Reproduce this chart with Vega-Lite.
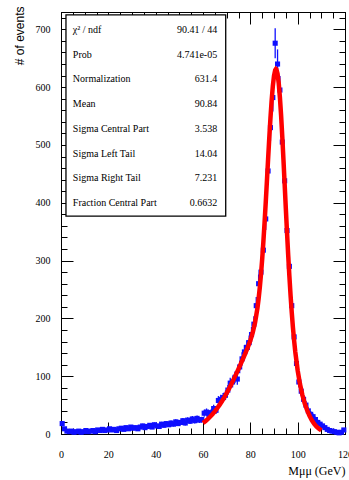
{
  "$schema": "https://vega.github.io/schema/vega-lite/v6.json",
  "width": 284,
  "height": 422,
  "autosize": "none",
  "padding": {"left": 61, "top": 12, "right": 4, "bottom": 46},
  "background": "white",
  "config": {
    "view": {"stroke": null},
    "axis": {"grid": false, "labelFont": "Liberation Serif", "labelFontSize": 10, "labelColor": "#000", "domainColor": "#000", "tickColor": "#000", "domainWidth": 1, "tickWidth": 1, "titleColor": "#000", "labelFlush": false}
  },
  "datasets": {
    "pts": [
      {"x":0.5,"v":18,"e":4.2},{"x":1.5,"v":9,"e":3},{"x":2.5,"v":5,"e":2.2},{"x":3.5,"v":4,"e":2},{"x":4.5,"v":5,"e":2.2},
      {"x":5.5,"v":3,"e":1.7},{"x":6.5,"v":4,"e":2},{"x":7.5,"v":5,"e":2.2},{"x":8.5,"v":3,"e":1.7},{"x":9.5,"v":4,"e":2},
      {"x":10.5,"v":6,"e":2.4},{"x":11.5,"v":4,"e":2},{"x":12.5,"v":5,"e":2.2},{"x":13.5,"v":6,"e":2.4},{"x":14.5,"v":4,"e":2},
      {"x":15.5,"v":7,"e":2.6},{"x":16.5,"v":6,"e":2.4},{"x":17.5,"v":8,"e":2.8},{"x":18.5,"v":6,"e":2.4},{"x":19.5,"v":7,"e":2.6},
      {"x":20.5,"v":9,"e":3},{"x":21.5,"v":7,"e":2.6},{"x":22.5,"v":8,"e":2.8},{"x":23.5,"v":6,"e":2.4},{"x":24.5,"v":9,"e":3},
      {"x":25.5,"v":10,"e":3.2},{"x":26.5,"v":8,"e":2.8},{"x":27.5,"v":11,"e":3.3},{"x":28.5,"v":9,"e":3},{"x":29.5,"v":12,"e":3.5},
      {"x":30.5,"v":10,"e":3.2},{"x":31.5,"v":11,"e":3.3},{"x":32.5,"v":9,"e":3},{"x":33.5,"v":12,"e":3.5},{"x":34.5,"v":14,"e":3.7},
      {"x":35.5,"v":11,"e":3.3},{"x":36.5,"v":13,"e":3.6},{"x":37.5,"v":15,"e":3.9},{"x":38.5,"v":12,"e":3.5},{"x":39.5,"v":16,"e":4},
      {"x":40.5,"v":14,"e":3.7},{"x":41.5,"v":13,"e":3.6},{"x":42.5,"v":17,"e":4.1},{"x":43.5,"v":15,"e":3.9},{"x":44.5,"v":18,"e":4.2},
      {"x":45.5,"v":16,"e":4},{"x":46.5,"v":19,"e":4.4},{"x":47.5,"v":17,"e":4.1},{"x":48.5,"v":21,"e":4.6},{"x":49.5,"v":18,"e":4.2},
      {"x":50.5,"v":20,"e":4.5},{"x":51.5,"v":23,"e":4.8},{"x":52.5,"v":19,"e":4.4},{"x":53.5,"v":24,"e":4.9},{"x":54.5,"v":22,"e":4.7},
      {"x":55.5,"v":26,"e":5.1},{"x":56.5,"v":23,"e":4.8},{"x":57.5,"v":27,"e":5.2},{"x":58.5,"v":24,"e":4.9},{"x":59.5,"v":25,"e":5},
      {"x":60.5,"v":36,"e":6},{"x":61.5,"v":38,"e":6.2},{"x":62.5,"v":33,"e":5.7},{"x":63.5,"v":37,"e":6.1},{"x":64.5,"v":44,"e":6.6},
      {"x":65.5,"v":41,"e":6.4},{"x":66.5,"v":58,"e":7.6},{"x":67.5,"v":60,"e":7.7},{"x":68.5,"v":63,"e":7.9},{"x":69.5,"v":67,"e":8.2},
      {"x":70.5,"v":76,"e":8.7},{"x":71.5,"v":88,"e":9.4},{"x":72.5,"v":90,"e":9.5},{"x":73.5,"v":98,"e":9.9},{"x":74.5,"v":95,"e":9.7},
      {"x":75.5,"v":116,"e":10.8},{"x":76.5,"v":130,"e":11.4},{"x":77.5,"v":142,"e":11.9},{"x":78.5,"v":150,"e":12.2},{"x":79.5,"v":158,"e":12.6},
      {"x":80.5,"v":172,"e":13.1},{"x":81.5,"v":190,"e":13.8},{"x":82.5,"v":222,"e":14.9},{"x":83.5,"v":260,"e":16.1},{"x":84.5,"v":280,"e":16.7},
      {"x":85.5,"v":318,"e":17.8},{"x":86.5,"v":372,"e":19.3},{"x":87.5,"v":455,"e":21.3},{"x":88.5,"v":530,"e":23},{"x":89.5,"v":582,"e":24.1},
      {"x":90.5,"v":676,"e":26},{"x":91.5,"v":640,"e":25.3},{"x":92.5,"v":595,"e":24.4},{"x":93.5,"v":505,"e":22.5},{"x":94.5,"v":438,"e":20.9},
      {"x":95.5,"v":352,"e":18.8},{"x":96.5,"v":290,"e":17},{"x":97.5,"v":222,"e":14.9},{"x":98.5,"v":168,"e":13},{"x":99.5,"v":122,"e":11},
      {"x":100.5,"v":90,"e":9.5},{"x":101.5,"v":74,"e":8.6},{"x":102.5,"v":60,"e":7.7},{"x":103.5,"v":50,"e":7.1},{"x":104.5,"v":40,"e":6.3},
      {"x":105.5,"v":34,"e":5.8},{"x":106.5,"v":30,"e":5.5},{"x":107.5,"v":25,"e":5},{"x":108.5,"v":20,"e":4.5},{"x":109.5,"v":17,"e":4.1},
      {"x":110.5,"v":14,"e":3.7},{"x":111.5,"v":11,"e":3.3},{"x":112.5,"v":8,"e":2.8},{"x":113.5,"v":6,"e":2.4},{"x":114.5,"v":5,"e":2.2},
      {"x":115.5,"v":4,"e":2},{"x":116.5,"v":3,"e":1.7},{"x":117.5,"v":2,"e":1.4},{"x":118.5,"v":3,"e":1.7},{"x":119.5,"v":7,"e":2.6}
    ],
    "fit": [
      {"x":60,"f":19.1},{"x":61,"f":22.2},{"x":62,"f":25.8},{"x":63,"f":29.8},{"x":64,"f":34.2},{"x":65,"f":39.1},
      {"x":66,"f":44.5},{"x":67,"f":50.3},{"x":68,"f":56.6},{"x":69,"f":63.4},{"x":70,"f":70.7},{"x":71,"f":78.4},
      {"x":72,"f":86.4},{"x":73,"f":94.9},{"x":74,"f":103.6},{"x":75,"f":112.5},{"x":76,"f":121.7},{"x":77,"f":131.0},
      {"x":78,"f":140.6},{"x":79,"f":150.5},{"x":80,"f":161.7},{"x":81,"f":175.1},{"x":82,"f":192.9},{"x":83,"f":217.8},
      {"x":83.5,"f":234.2},{"x":84,"f":253.5},{"x":84.5,"f":276.1},{"x":85,"f":302.2},{"x":85.5,"f":331.8},{"x":86,"f":364.7},
      {"x":86.5,"f":400.0},{"x":87,"f":437.2},{"x":87.5,"f":474.9},{"x":88,"f":511.7},{"x":88.5,"f":546.2},{"x":89,"f":576.6},
      {"x":89.5,"f":601.5},{"x":90,"f":619.4},{"x":90.5,"f":629.4},{"x":90.84,"f":631.4},{"x":91,"f":630.9},{"x":91.5,"f":623.3},
      {"x":92,"f":606.8},{"x":92.5,"f":582.2},{"x":93,"f":551.0},{"x":93.5,"f":514.4},{"x":94,"f":474.3},{"x":94.5,"f":432.3},
      {"x":95,"f":390.0},{"x":95.5,"f":348.7},{"x":96,"f":309.4},{"x":96.5,"f":273.0},{"x":97,"f":239.9},{"x":97.5,"f":210.3},
      {"x":98,"f":184.2},{"x":98.5,"f":161.5},{"x":99,"f":141.8},{"x":100,"f":110.0},{"x":101,"f":86.0},{"x":102,"f":67.5},
      {"x":103,"f":52.8},{"x":104,"f":41.0},{"x":105,"f":31.4},{"x":106,"f":23.6},{"x":107,"f":17.5},{"x":108,"f":12.7},
      {"x":109,"f":9.1},{"x":110,"f":6.4}
    ],
    "stats": [
      {"i":1,"label":"χ² / ndf","val":"90.41 / 44"},
      {"i":2,"label":"Prob","val":"4.741e-05"},
      {"i":3,"label":"Normalization","val":"631.4"},
      {"i":4,"label":"Mean","val":"90.84"},
      {"i":5,"label":"Sigma Central Part","val":"3.538"},
      {"i":6,"label":"Sigma Left Tail","val":"14.04"},
      {"i":7,"label":"Sigma Right Tail","val":"7.231"},
      {"i":8,"label":"Fraction Central Part","val":"0.6632"}
    ]
  },
  "resolve": {"scale": {"y": "independent"}, "axis": {"x": "independent", "y": "independent"}},
  "layer": [
    {
      "data": {"name": "pts"},
      "mark": {"type": "errorbar", "color": "#0f0fff", "thickness": 1.3},
      "encoding": {
        "x": {"field": "x", "type": "quantitative", "scale": {"domain": [0, 120]},
              "axis": {"orient": "bottom", "values": [0,5,10,15,20,25,30,35,40,45,50,55,60,65,70,75,80,85,90,95,100,105,110,115,120], "labels": false, "tickSize": -6, "title": null}},
        "y": {"field": "v", "type": "quantitative", "scale": {"domain": [0, 730]},
              "axis": {"orient": "left", "values": [0,20,40,60,80,100,120,140,160,180,200,220,240,260,280,300,320,340,360,380,400,420,440,460,480,500,520,540,560,580,600,620,640,660,680,700,720], "labels": false, "tickSize": -6, "title": null}},
        "yError": {"field": "e"}
      }
    },
    {
      "data": {"name": "pts"},
      "mark": {"type": "point", "shape": "square", "filled": true, "size": 26, "color": "#0f0fff", "opacity": 1},
      "encoding": {
        "x": {"field": "x", "type": "quantitative", "scale": {"domain": [0, 120]},
              "axis": {"orient": "bottom", "values": [0,20,40,60,80,100,120], "tickSize": -12, "labelPadding": 27, "title": "Mμμ (GeV)",
                       "titleFont": "Liberation Serif", "titleFontSize": 12, "titleFontWeight": "normal", "titleAlign": "right", "titleAnchor": "end", "titleX": 284, "titleY": 36, "titleBaseline": "middle"}},
        "y": {"field": "v", "type": "quantitative", "scale": {"domain": [0, 730]},
              "axis": {"orient": "left", "values": [0,100,200,300,400,500,600,700], "tickSize": -12, "labelPadding": 23, "title": "# of events",
                       "titleFont": "Liberation Sans", "titleFontSize": 12, "titleFontWeight": "normal", "titleAngle": -90, "titleAlign": "right", "titleAnchor": "end", "titleX": -42, "titleY": -6, "titleBaseline": "middle"}}
      }
    },
    {
      "data": {"name": "fit"},
      "mark": {"type": "line", "color": "#ff0000", "strokeWidth": 4.5},
      "encoding": {
        "x": {"field": "x", "type": "quantitative", "scale": {"domain": [0, 120]},
              "axis": {"orient": "top", "values": [0,5,10,15,20,25,30,35,40,45,50,55,60,65,70,75,80,85,90,95,100,105,110,115,120], "labels": false, "tickSize": -6, "title": null}},
        "y": {"field": "f", "type": "quantitative", "scale": {"domain": [0, 730]},
              "axis": {"orient": "right", "values": [0,20,40,60,80,100,120,140,160,180,200,220,240,260,280,300,320,340,360,380,400,420,440,460,480,500,520,540,560,580,600,620,640,660,680,700,720], "labels": false, "tickSize": -6, "title": null}}
      }
    },
    {
      "data": {"values": [{}]},
      "mark": {"type": "rect", "fill": "white", "stroke": "black", "strokeWidth": 1.3},
      "encoding": {
        "x": {"datum": 2.1, "type": "quantitative", "scale": {"domain": [0, 120]},
              "axis": {"orient": "top", "values": [0,20,40,60,80,100,120], "labels": false, "tickSize": -12, "title": null}},
        "x2": {"datum": 69.6},
        "y": {"datum": 725, "type": "quantitative", "scale": {"domain": [0, 730]},
              "axis": {"orient": "right", "values": [0,100,200,300,400,500,600,700], "labels": false, "tickSize": -12, "title": null}},
        "y2": {"datum": 377}
      }
    },
    {
      "data": {"name": "stats"},
      "mark": {"type": "text", "align": "left", "baseline": "middle", "font": "Liberation Serif", "fontSize": 10, "color": "#000"},
      "encoding": {
        "x": {"datum": 5, "type": "quantitative", "axis": null},
        "y": {"field": "i", "type": "quantitative", "scale": {"domain": [0.271, 17.356], "reverse": true}, "axis": null},
        "text": {"field": "label"}
      }
    },
    {
      "data": {"name": "stats"},
      "mark": {"type": "text", "align": "right", "baseline": "middle", "font": "Liberation Serif", "fontSize": 10, "color": "#000"},
      "encoding": {
        "x": {"datum": 66, "type": "quantitative", "axis": null},
        "y": {"field": "i", "type": "quantitative", "scale": {"domain": [0.271, 17.356], "reverse": true}, "axis": null},
        "text": {"field": "val"}
      }
    }
  ]
}
